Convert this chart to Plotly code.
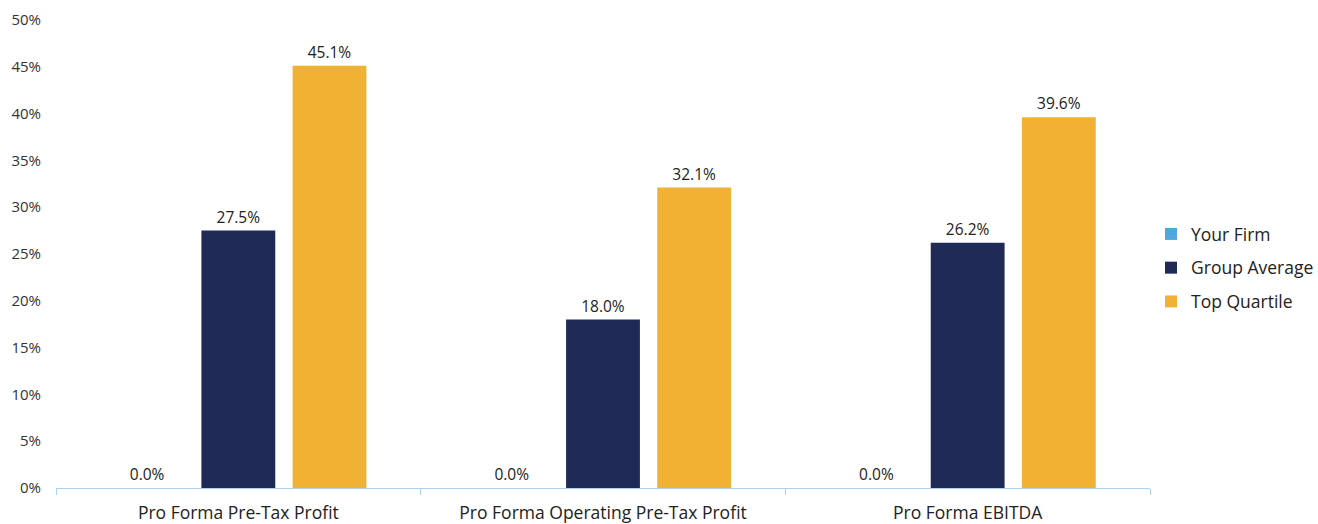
import plotly.graph_objects as go

categories = ["Pro Forma Pre-Tax Profit", "Pro Forma Operating Pre-Tax Profit", "Pro Forma EBITDA"]
your_firm = [0.0, 0.0, 0.0]
group_average = [27.5, 18.0, 26.2]
top_quartile = [45.1, 32.1, 39.6]
y_ticks = [0, 5, 10, 15, 20, 25, 30, 35, 40, 45, 50]

series = [
    ("Your Firm", your_firm, "#4ea7dd"),
    ("Group Average", group_average, "#1f2a57"),
    ("Top Quartile", top_quartile, "#f1b233"),
]

fig = go.Figure()
for name, vals, color in series:
    fig.add_trace(go.Bar(
        x=categories, y=vals, name=name, marker_color=color,
        marker_line_width=0, legendgroup=name,
        text=[f"{v:.1f}%" for v in vals], textposition="outside",
        textfont=dict(size=15.5, color="#222222", family="Open Sans"),
        cliponaxis=False,
    ))

fig.update_layout(
    width=1318, height=524,
    margin=dict(l=56, r=168, t=20, b=36, autoexpand=False),
    plot_bgcolor="white", paper_bgcolor="white",
    font=dict(family="Open Sans", color="#222222"),
    barmode="group", bargap=0.25, bargroupgap=0.19,
    legend=dict(xref="container", x=1151 / 1318, y=0.47, xanchor="left", yanchor="middle",
                font=dict(size=17.5, color="#222222"), tracegroupgap=8,
                traceorder="grouped", itemwidth=30),
    yaxis=dict(range=[0, 50], tickvals=y_ticks, ticktext=[f"{t}%" for t in y_ticks],
               showgrid=False, zeroline=False, showline=False, automargin=False,
               tickfont=dict(size=15, color="#333333"), ticks="", ticklabelstandoff=14),
    xaxis=dict(showline=True, linecolor="#a9d3ef", linewidth=1, automargin=False,
               ticks="outside", tickson="boundaries", ticklen=6, tickcolor="#a9d3ef",
               ticklabelstandoff=9,
               tickfont=dict(size=17.5, color="#222222")),
)

fig.write_html("out.html")
